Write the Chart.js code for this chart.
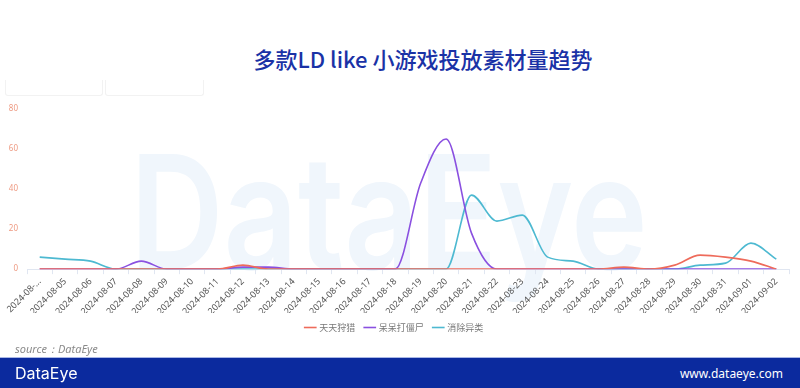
<!DOCTYPE html>
<html>
<head>
<meta charset="utf-8">
<script src="https://cdn.jsdelivr.net/npm/chart.js@4/dist/chart.umd.min.js"></script>
<style>
  body { margin: 0; width: 800px; height: 388px; background: #fff; position: relative; overflow: hidden; font-family: 'Noto Sans CJK SC', 'Noto Sans', sans-serif; }
  #title { position: absolute; top: 42px; left: 0; width: 846px; text-align: center; font-size: 22px; font-weight: 500; color: #1a32a6; }
  #mark { position: absolute; left: 130px; top: 116px; font-family: Inter, sans-serif; font-weight: 600; font-size: 158px; color: #f0f6fc; transform: scaleX(0.82); transform-origin: left top; white-space: nowrap; }
  .box { position: absolute; top: 80px; height: 15px; border: 1px solid #f2f2f2; border-top: none; border-radius: 0 0 3px 3px; }
  #wrap { position: absolute; left: 0; top: 95px; width: 800px; height: 251px; }
  #src { position: absolute; left: 15px; top: 341px; font-size: 11px; font-style: italic; color: #8a8a8a; font-family: 'Noto Sans', sans-serif; }
  #foot { position: absolute; left: 0; top: 357px; width: 800px; height: 31px; background: #0b2a9e; border-top: 1px solid #aab8e6; box-sizing: border-box; color: #fff; }
  #logo { position: absolute; left: 15px; top: 5px; font-size: 16px; font-family: Inter, sans-serif; }
  #url { position: absolute; right: 17px; top: 7px; font-size: 12px; font-family: 'Noto Sans', sans-serif; }
</style>
</head>
<body>
<div id="mark">DataEye</div>
<div class="box" style="left:5px;width:96px"></div>
<div class="box" style="left:105px;width:97px"></div>
<div id="title">多款LD like 小游戏投放素材量趋势</div>
<div id="wrap"><canvas id="linechart"></canvas></div>
<div id="src">source：DataEye</div>
<div id="foot"><span id="logo">DataEye</span><span id="url">www.dataeye.com</span></div>
<script>
// Categories
const dates = ['2024-08-04','2024-08-05','2024-08-06','2024-08-07','2024-08-08','2024-08-09','2024-08-10',
  '2024-08-11','2024-08-12','2024-08-13','2024-08-14','2024-08-15','2024-08-16','2024-08-17','2024-08-18',
  '2024-08-19','2024-08-20','2024-08-21','2024-08-22','2024-08-23','2024-08-24','2024-08-25','2024-08-26',
  '2024-08-27','2024-08-28','2024-08-29','2024-08-30','2024-08-31','2024-09-01','2024-09-02'];
// Series values
const tiantian = [0,0,0,0,0,0,0,0,2,0,0,0,0,0,0,0,0,0,0,0,0,0,0,1,0,2,7,6,4,0];
const daidai   = [0,0,0,0,4,0,0,0,1,1,0,0,0,0,0,43,65,18,0,0,0,0,0,0,0,0,0,0,0,0];
const xiaochu  = [6,5,4,0,0,0,0,0,0,0,0,0,0,0,0,0,0,37,24,27,6,4,0,0,0,0,2,3,13,5];
// Y ticks
const yTicks = [0,20,40,60,80];

const line = (label, data, color) => ({
  label: label, data: data, borderColor: color, backgroundColor: color,
  borderWidth: 1.6, pointRadius: 0, cubicInterpolationMode: 'monotone', fill: false
});

new Chart('linechart', {
  type: 'line',
  data: {
    labels: dates,
    datasets: [
      line('天天狩猎', tiantian, '#ee6b5b'),
      line('呆呆打僵尸', daidai, '#8a50e0'),
      line('消除异类', xiaochu, '#4db9d1')
    ]
  },
  options: {
    responsive: true,
    maintainAspectRatio: false,
    animation: false,
    layout: { padding: { top: 14, right: 11, bottom: 4 } },
    plugins: {
      tooltip: { enabled: false },
      legend: {
        position: 'bottom',
        labels: {
          usePointStyle: true, pointStyle: 'line', boxWidth: 12, padding: 10,
          color: '#777', font: { size: 9, family: "'Noto Sans CJK SC'" }
        }
      }
    },
    scales: {
      x: {
        offset: true,
        afterFit: s => { s.height = s.height - 6; },
        grid: { drawOnChartArea: false, offset: true, tickLength: 5, color: '#e0e6f1' },
        border: { color: '#e0e6f1' },
        ticks: {
          autoSkip: false, maxRotation: 45, minRotation: 45, color: '#555', padding: 2,
          font: { size: 9, family: "'Noto Sans'" },
          callback: (v, i) => i === 0 ? '2024-08-...' : dates[i]
        }
      },
      y: {
        min: 0, max: 80,
        afterBuildTicks: s => { s.ticks = yTicks.map(v => ({ value: v })); },
        afterFit: s => { s.width = 27; },
        grid: { display: false },
        border: { display: false },
        ticks: { color: '#ee9a82', padding: 1, font: { size: 8, family: "'Noto Sans'" } }
      }
    }
  }
});
</script>
</body>
</html>
